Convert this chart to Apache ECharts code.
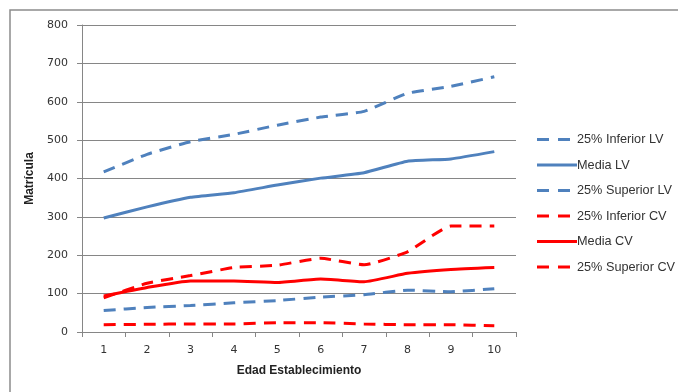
<!DOCTYPE html>
<html>
<head>
<meta charset="utf-8">
<script src="https://cdn.jsdelivr.net/npm/echarts@6/dist/echarts.min.js"></script>
<style>
  html, body { margin: 0; padding: 0; background: #ffffff; }
  #chart { width: 678px; height: 392px; }
</style>
</head>
<body>
<div id="chart"></div>
<script>
// Edad del establecimiento (años)
const edades = ['1', '2', '3', '4', '5', '6', '7', '8', '9', '10'];

// Matrícula por edad: liceos LV
const inferiorLV = [417, 463, 496, 515, 539, 560, 575, 622, 640, 665];
const mediaLV    = [297, 326, 351, 363, 383, 401, 415, 445, 451, 470];
const superiorLV = [56, 64, 69, 76, 82, 91, 97, 109, 105, 113];

// Matrícula por edad: liceos CV
const inferiorCV = [89, 127, 147, 168, 174, 192, 175, 209, 276, 276];
const mediaCV    = [94, 116, 133, 133, 129, 138, 131, 153, 163, 168];
const superiorCV = [19, 20, 21, 21, 24, 24, 21, 19, 19, 16];

const AZUL = '#4f81bd';
const ROJO = '#ff0000';
const GRIS = '#868686';

// Iconos de leyenda: trazo corto discontinuo o continuo (mismo ancho de caja: 40)
const ICONO_DISC = 'path://M0,0H12V3H0Z M21,0H33V3H21Z M39.9,1.49H40V1.5H39.9Z';
const ICONO_CONT = 'path://M0,0H40V3H0Z';

function linea(nombre, datos, color, discontinua) {
  return {
    name: nombre,
    type: 'line',
    data: datos,
    symbol: 'none',
    smooth: 0.15,
    lineStyle: {
      color: color,
      width: 3,
      type: discontinua ? [12, 8] : 'solid',
      cap: 'butt'
    },
    itemStyle: { color: color }
  };
}

function entrada(nombre, discontinua) {
  return { name: nombre, icon: discontinua ? ICONO_DISC : ICONO_CONT };
}

const chart = echarts.init(document.getElementById('chart'), null, { renderer: 'canvas' });

chart.setOption({
  animation: false,
  backgroundColor: '#ffffff',
  graphic: [{
    type: 'rect',
    shape: { x: 10, y: 10, width: 700, height: 400 },
    style: { fill: 'none', stroke: '#8c8c8c', lineWidth: 1.5 },
    silent: true
  }],
  grid: { left: 82, right: 162, top: 25, bottom: 60 },
  legend: {
    orient: 'vertical',
    left: 532,
    top: 128,
    itemWidth: 40,
    itemHeight: 3,
    itemGap: 12.5,
    itemStyle: { borderWidth: 0 },
    textStyle: { fontFamily: 'Liberation Sans', fontSize: 12.7, color: '#333333', padding: [0, 0, 0, -5] },
    data: [
      entrada('25% Inferior LV', true),
      entrada('Media LV', false),
      entrada('25% Superior LV', true),
      entrada('25% Inferior CV', true),
      entrada('Media CV', false),
      entrada('25% Superior CV', true)
    ]
  },
  xAxis: {
    type: 'category',
    data: edades,
    boundaryGap: true,
    name: 'Edad Establecimiento',
    nameLocation: 'middle',
    nameGap: 33,
    nameTextStyle: { fontFamily: 'Liberation Sans', fontSize: 12, fontWeight: 'bold', color: '#222222' },
    axisLine: { lineStyle: { color: GRIS, width: 1 } },
    axisTick: { show: true, length: 5, alignWithLabel: false, lineStyle: { color: GRIS } },
    axisLabel: { fontFamily: 'DejaVu Sans', fontSize: 11, color: '#333333', margin: 13 },
    splitLine: { show: false }
  },
  yAxis: {
    type: 'value',
    min: 0,
    max: 800,
    interval: 100,
    name: 'Matrícula',
    nameLocation: 'middle',
    nameGap: 37,
    nameRotate: 90,
    nameTextStyle: { fontFamily: 'Liberation Sans', fontSize: 12, fontWeight: 'bold', color: '#222222' },
    axisLine: { show: true, lineStyle: { color: GRIS, width: 1 } },
    axisTick: { show: true, length: 5, lineStyle: { color: GRIS } },
    axisLabel: { fontFamily: 'DejaVu Sans', fontSize: 11, color: '#333333', margin: 14 },
    splitLine: { show: true, lineStyle: { color: GRIS, width: 1 } }
  },
  series: [
    linea('25% Inferior LV', inferiorLV, AZUL, true),
    linea('Media LV', mediaLV, AZUL, false),
    linea('25% Superior LV', superiorLV, AZUL, true),
    linea('25% Inferior CV', inferiorCV, ROJO, true),
    linea('Media CV', mediaCV, ROJO, false),
    linea('25% Superior CV', superiorCV, ROJO, true)
  ]
});
</script>
</body>
</html>
